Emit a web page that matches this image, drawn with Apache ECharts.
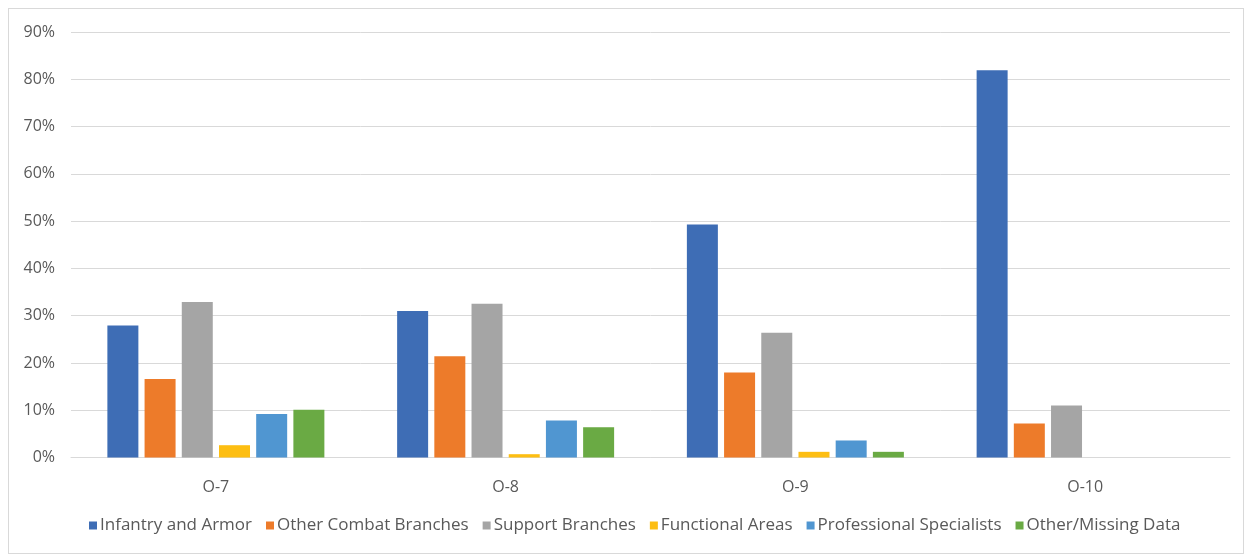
<!DOCTYPE html>
<html>
<head>
<meta charset="utf-8">
<script src="https://cdn.jsdelivr.net/npm/echarts@6/dist/echarts.min.js"></script>
<style>
  html, body { margin: 0; padding: 0; background: #fff; }
  #chart { width: 1250px; height: 556px; box-sizing: border-box; }
  .frame { position: absolute; left: 8px; top: 8px; width: 1236px; height: 546px; border: 1px solid #d9d9d9; box-sizing: border-box; pointer-events: none; }
</style>
</head>
<body>
<div id="chart"></div>
<div class="frame"></div>
<script>
// Grades on the x axis
const categories = ["O-7", "O-8", "O-9", "O-10"];

// Share of officers by branch group (percent)
const infantryArmor = [27.9, 31.0, 49.3, 81.9];
const otherCombat = [16.6, 21.4, 18.0, 7.2];
const supportBranches = [32.9, 32.5, 26.4, 11.0];
const functionalAreas = [2.6, 0.7, 1.2, 0];
const professionalSpecialists = [9.2, 7.8, 3.6, 0];
const otherMissing = [10.1, 6.4, 1.2, 0];

const seriesDefs = [
  { name: "Infantry and Armor", data: infantryArmor, color: "#3e6db5" },
  { name: "Other Combat Branches", data: otherCombat, color: "#ed7b2a" },
  { name: "Support Branches", data: supportBranches, color: "#a5a5a5" },
  { name: "Functional Areas", data: functionalAreas, color: "#fdbe12" },
  { name: "Professional Specialists", data: professionalSpecialists, color: "#5096d1" },
  { name: "Other/Missing Data", data: otherMissing, color: "#6aaa44" }
];

const font = "'Open Sans', sans-serif";
const chart = echarts.init(document.getElementById("chart"));

chart.setOption({
  animation: false,
  textStyle: { fontFamily: font },
  legend: {
    bottom: 17,
    left: 84,
    itemWidth: 8,
    itemHeight: 8,
    itemGap: 14,
    icon: "rect",
    textStyle: { color: "#595959", fontSize: 17, fontFamily: font, padding: [0, 0, 0, -2] },
    data: seriesDefs.map((s) => s.name)
  },
  grid: { left: 71, right: 20, top: 32, bottom: 98.5 },
  xAxis: {
    type: "category",
    data: categories,
    axisTick: { show: false },
    axisLine: { lineStyle: { color: "#d9d9d9", width: 1 } },
    axisLabel: { color: "#595959", fontSize: 16, margin: 22 }
  },
  yAxis: {
    type: "value",
    min: 0,
    max: 90,
    interval: 10,
    axisLine: { show: false },
    axisTick: { show: false },
    axisLabel: { color: "#595959", fontSize: 16, margin: 16, formatter: (v) => v + "%" },
    splitLine: { lineStyle: { color: "#d9d9d9", width: 1 } }
  },
  series: seriesDefs.map((s) => ({
    name: s.name,
    type: "bar",
    data: s.data,
    barWidth: 31,
    barGap: "20%",
    itemStyle: { color: s.color }
  }))
});
</script>
</body>
</html>
